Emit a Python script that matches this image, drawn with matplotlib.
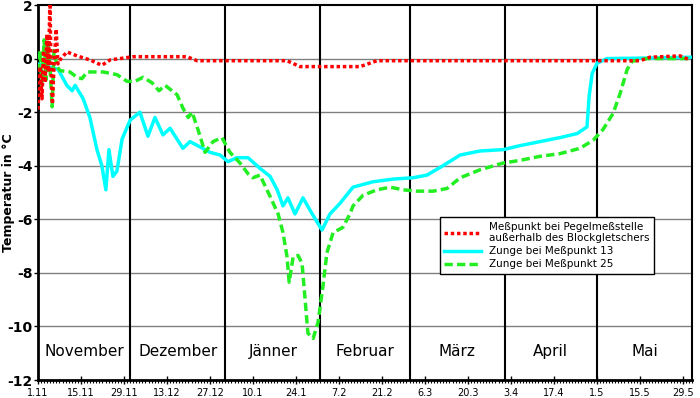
import numpy as np
import matplotlib
matplotlib.use("Agg")
import matplotlib.pyplot as plt
from matplotlib.ticker import MultipleLocator

# days since 1.11. (leap year, Feb has 29 days)
red_day = [0, 0.7, 1.3, 1.8, 2.3, 2.9, 3.4, 3.9, 4.2, 4.7, 5.2, 5.9, 6.5, 7.2, 9.4, 12.7,
           16.9, 20.8, 23.5, 26.7, 30.9, 48.5, 51.8, 81.1, 85.3, 104.9, 110.4, 196.1,
           199.3, 209.1, 212.4]
red_val = [-1.9, -0.3, -1.5, 0.3, -0.9, 0.9, -0.5, 2.3, -0.2, -1.7, -0.3, 1.1, -0.2, -0.05,
           0.25, 0.1, -0.05, -0.25, -0.05, 0.0, 0.07, 0.07, -0.08, -0.08, -0.3, -0.3, -0.08,
           -0.08, 0.05, 0.1, -0.05]

cyan_day = [0, 6.5, 9.4, 11.1, 12.1, 14.7, 16.9, 19.2, 20.8, 22.1, 23.1, 24.4, 25.7, 27.4,
            30.0, 33.2, 35.8, 38.1, 40.7, 43.0, 47.2, 49.5, 52.8, 56.0, 59.3, 61.9, 64.8,
            68.4, 72.3, 75.6, 77.9, 79.8, 81.4, 83.7, 86.3, 89.3, 92.5, 95.1, 98.4, 102.6,
            109.1, 115.6, 122.1, 126.7, 131.9, 137.5, 144.0, 151.5, 157.0, 163.5, 170.0,
            175.6, 178.8, 179.5, 180.5, 182.1, 185.3, 199.3, 212.4]
cyan_val = [-0.2, -0.4, -1.0, -1.2, -1.0, -1.5, -2.2, -3.4, -4.0, -4.9, -3.4, -4.4, -4.2, -3.0,
            -2.3, -2.0, -2.9, -2.2, -2.85, -2.6, -3.35, -3.1, -3.3, -3.5, -3.6, -3.85, -3.7,
            -3.7, -4.1, -4.4, -4.9, -5.5, -5.2, -5.8, -5.2, -5.8, -6.4, -5.8, -5.4, -4.8,
            -4.6, -4.5, -4.45, -4.35, -4.0, -3.6, -3.45, -3.4, -3.25, -3.1, -2.95,
            -2.8, -2.55, -1.4, -0.55, -0.17, 0.0, 0.02, 0.05]

green_day = [0, 0.7, 1.3, 2.0, 2.6, 3.3, 3.9, 4.6, 5.2, 6.2, 7.2, 10.4, 12.7, 14.3, 16.0,
             21.2, 25.7, 29.0, 31.6, 34.2, 37.1, 39.4, 41.4, 45.3, 47.2, 48.9, 50.2, 52.1,
             54.4, 57.0, 59.9, 62.5, 65.8, 68.4, 70.0, 72.3, 75.6, 78.2, 79.8, 81.1, 81.8,
             83.1, 84.7, 86.0, 87.0, 87.9, 89.6, 91.2, 92.8, 94.1, 96.1, 99.3, 101.6, 102.6,
             105.9, 110.4, 114.7, 118.9, 123.5, 128.7, 133.2, 137.5, 144.0, 151.5, 157.0,
             163.5, 170.0, 176.5, 180.8, 184.0, 187.3, 189.6, 191.9, 193.5, 198.4, 212.4]
green_val = [-0.5, 0.3, -1.0, 0.7, -0.8, 0.5, -0.3, -1.8, 0.3, -0.3, -0.45, -0.5, -0.7, -0.75,
             -0.5, -0.5, -0.6, -0.85, -0.85, -0.7, -0.9, -1.2, -1.0, -1.35, -1.85, -2.2, -2.0,
             -2.65, -3.5, -3.1, -2.95, -3.5, -3.9, -4.3, -4.45, -4.35, -5.15, -5.8, -6.5,
             -7.4, -8.35, -7.4, -7.35, -7.65, -9.0, -10.25, -10.45, -9.85, -8.5, -7.25, -6.5,
             -6.3, -5.8, -5.5, -5.1, -4.9, -4.8, -4.9, -4.95, -4.95, -4.85, -4.45, -4.15,
             -3.9, -3.8, -3.65, -3.55, -3.35, -3.05, -2.65, -2.05, -1.3, -0.4, -0.1, 0.0, 0.0]

months = ["November", "Dezember", "Jänner", "Februar", "März", "April", "Mai"]
month_start = [0, 30, 61, 92, 121, 152, 182, 213]
tick_labels = ["1.11", "15.11", "29.11", "13.12", "27.12", "10.1", "24.1", "7.2",
               "21.2", "6.3", "20.3", "3.4", "17.4", "1.5", "15.5", "29.5"]

fig = plt.figure(figsize=(7, 3.98), dpi=100)
ax = fig.add_axes([38/700, 18/398, 654/700, 375/398])

ax.set_xlim(0, 213)
ax.set_ylim(-12, 2)

for yv in range(-10, 2, 2):
    ax.axhline(yv, color="#808080", lw=1, zorder=1)
for d in month_start[1:-1]:
    ax.axvline(d, color="black", lw=1.5, zorder=2)

l_cyan, = ax.plot(cyan_day, cyan_val, color="#00FFFF", lw=2.5, zorder=3,
                  label="Zunge bei Meßpunkt 13")
l_green, = ax.plot(green_day, green_val, color="#22EE22", lw=2.5, zorder=4,
                   linestyle=(0, (2.4, 1.2)), label="Zunge bei Meßpunkt 25")
l_red, = ax.plot(red_day, red_val, color="#FF0000", lw=2.5, zorder=5,
                 linestyle=(0, (1, 0.8)),
                 label="Meßpunkt bei Pegelmeßstelle\naußerhalb des Blockgletschers")

for i, m in enumerate(months):
    ax.text((month_start[i] + month_start[i+1]) / 2, -10.95, m, ha="center", va="center",
            fontsize=11, zorder=6)

ax.set_xticks(np.arange(0, 211, 14))
ax.set_xticklabels(tick_labels, fontsize=7)
ax.xaxis.set_minor_locator(MultipleLocator(1))
ax.tick_params(axis="x", which="major", direction="inout", length=6, width=1, pad=3)
ax.tick_params(axis="x", which="minor", direction="out", length=2, width=0.8)
ax.set_yticks(range(-12, 3, 2))
ax.set_yticklabels([str(v) for v in range(-12, 3, 2)], fontsize=10, fontweight="bold")
ax.tick_params(axis="y", direction="out", length=3, width=1, pad=1)
ax.set_ylabel("Temperatur in °C", fontsize=9, fontweight="bold")
ax.yaxis.set_label_coords(-23/654, 0.5)

for s in ax.spines.values():
    s.set_linewidth(1.5)
ax.spines["left"].set_linewidth(2)
ax.spines["bottom"].set_linewidth(2)

leg = ax.legend(handles=[l_red, l_cyan, l_green], loc="lower left",
                bbox_to_anchor=(0.607, 0.27), fontsize=7.5, frameon=True, fancybox=False,
                edgecolor="black", framealpha=1, handlelength=3.5, borderpad=0.4,
                labelspacing=0.3)
leg.get_frame().set_linewidth(1)
leg.set_zorder(10)

fig.savefig("out.png", dpi=100)
